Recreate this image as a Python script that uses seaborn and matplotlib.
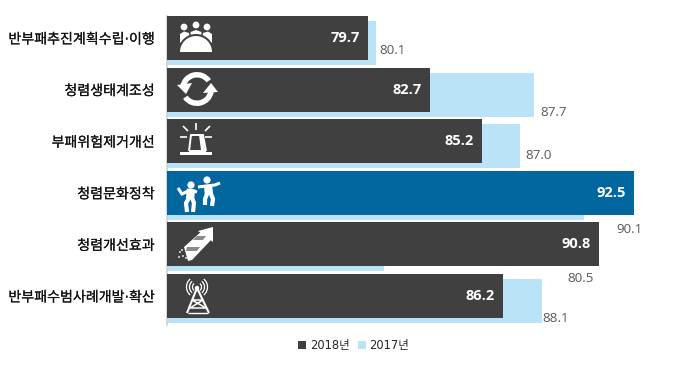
import numpy as np
import pandas as pd
import matplotlib
matplotlib.use("Agg")
import matplotlib.pyplot as plt
import matplotlib.patheffects as pe
from matplotlib.patches import Circle, Wedge, Polygon, Arc, Rectangle
from matplotlib.lines import Line2D
import seaborn as sns

categories = ["반부패추진계획수립·이행", "청렴생태계조성", "부패위험제거개선",
              "청렴문화정착", "청렴개선효과", "반부패수범사례개발·확산"]
values_2018 = [79.7, 82.7, 85.2, 92.5, 90.8, 86.2]
values_2017 = [80.1, 87.7, 87.0, 90.1, 80.5, 88.1]
legend_labels = ["2018년", "2017년"]

DARK, BLUE, LIGHT = "#404040", "#02679E", "#BAE3F7"
CJK = ["Noto Sans CJK KR", "DejaVu Sans"]
DOT_NARROW = ["DejaVu Sans", "Noto Sans CJK KR"]
W, H = 700, 371
sns.set_theme(style="white")
plt.rcParams["font.family"] = CJK

fig = plt.figure(figsize=(7, 3.71), dpi=100)
L, R, T, B = 167, 687, 16, 325
ax = fig.add_axes([L / W, 1 - B / H, (R - L) / W, (B - T) / H])

rows = np.arange(len(categories), dtype=float)
step = 51.6
df18 = pd.DataFrame({"row": rows, "v": values_2018})
df17 = pd.DataFrame({"row": rows + 5 / step, "v": values_2017})
sns.barplot(data=df17, x="v", y="row", orient="h", native_scale=True,
            color=LIGHT, saturation=1, width=44 / step, ax=ax, zorder=2)
n_light = len(ax.patches)
sns.barplot(data=df18, x="v", y="row", orient="h", native_scale=True,
            color=DARK, saturation=1, width=44 / step, ax=ax, zorder=3)
ax.patches[n_light + 3].set_facecolor(BLUE)
for p in ax.patches:
    p.set_linewidth(0)

ax.set_xlim(70.05, 95.05)
ax.set_ylim((B - 38) / step, (T - 38) / step)
ax.set_xlabel(""); ax.set_ylabel("")
ax.set_xticks([])
ax.set_yticks(rows)
ax.set_yticklabels(categories, fontsize=10.1, color="#111111", family=DOT_NARROW)
for t in ax.get_yticklabels():
    t.set_path_effects([pe.withStroke(linewidth=0.12, foreground="#111111")])
ax.tick_params(axis="y", length=0, pad=9)
for s in ["top", "right", "bottom"]:
    ax.spines[s].set_visible(False)
ax.spines["left"].set_color("#D0D0D0")
ax.spines["left"].set_linewidth(1.2)

for r, v in zip(rows, values_2018):
    ax.annotate(f"{v:.1f}", (v, r), xytext=(-8, 0), textcoords="offset pixels",
                ha="right", va="center", color="white", fontsize=10.5,
                fontweight="bold", family="Open Sans", zorder=5)

# Label placement of the previous-year values (pixels from bar end / row centre)
offs_x = [3, 6, 6, 32, 183, 0]
offs_y = [13, 23, 14, 37, 34, 22]
for r, v, dx, dy in zip(rows, values_2017, offs_x, offs_y):
    ax.annotate(f"{v:.1f}", (v, r), xytext=(dx, -dy), textcoords="offset pixels",
                ha="left", va="center", color="#595959", fontsize=9.6,
                family="Open Sans", zorder=5)

handles = [Line2D([], [], ls="", marker="s", ms=5.6, color=DARK, mew=0),
           Line2D([], [], ls="", marker="s", ms=5.6, color=LIGHT, mew=0)]
fig.legend(handles, legend_labels, loc="center", bbox_to_anchor=(353.5 / W, 1 - 346 / H),
           ncol=2, frameon=False, handlelength=0.7, handletextpad=0.35, columnspacing=0.7,
           prop={"family": DOT_NARROW, "size": 8.3})

# Decorative pictograms on a pixel-space overlay
ic = fig.add_axes([0, 0, 1, 1], zorder=10)
ic.set_xlim(0, W); ic.set_ylim(H, 0); ic.axis("off"); ic.patch.set_alpha(0)
WHT = "white"
def line(pts, lw=1.5, c=WHT):
    xs, ys = zip(*pts)
    ic.plot(xs, ys, color=c, lw=lw, solid_capstyle="butt", solid_joinstyle="miter")

# people around a table
for x, y in [(184, 27), (196, 25), (207, 27)]:
    ic.add_patch(Circle((x, y), 3.4, fc=WHT, lw=0))
ic.add_patch(Polygon([(180, 43), (180, 34), (184, 31.5), (189, 33), (190, 40)], fc=WHT, lw=0))
ic.add_patch(Polygon([(212, 43), (212, 34), (208, 31.5), (203, 33), (202, 40)], fc=WHT, lw=0))
ic.add_patch(Polygon([(190.5, 32), (196, 30), (201.5, 32), (201, 37), (196, 39), (191, 37)], fc=WHT, lw=0))
ic.add_patch(Wedge((196, 52), 18, 180, 360, fc=DARK, lw=0))
ic.add_patch(Wedge((196, 52), 16, 180, 360, fc=WHT, lw=0))

# circular arrows
ic.add_patch(Wedge((197, 89), 17, 190, 325, width=5.5, fc=WHT, lw=0))
ic.add_patch(Wedge((197, 89), 17, 10, 145, width=5.5, fc=WHT, lw=0))
ic.add_patch(Polygon([(177, 85), (192, 83), (186, 94)], fc=WHT, lw=0))
ic.add_patch(Polygon([(203, 93), (218, 92), (211, 83)], fc=WHT, lw=0))

# siren
ic.add_patch(Rectangle((180, 151.5), 32, 3.5, fc=WHT, lw=0))
line([(189, 151), (191, 135), (203, 135), (206, 151)], 1.4)
line([(189, 151), (206, 151)], 1.4)
ic.add_patch(Polygon([(199, 135), (203, 135), (205, 150), (201, 150)], fc=WHT, lw=0))
for a, b in [((196, 123), (196, 130)), ((183, 126), (188, 131)), ((210, 126), (205, 131)),
             ((180, 137), (187, 137)), ((205, 137), (212, 137))]:
    line([a, b], 1.2)

# dancers
for x, y in [(191, 185), (207, 180)]:
    ic.add_patch(Circle((x, y), 3.6, fc=WHT, lw=0))
line([(191, 189), (190, 199)], 6)
line([(189, 198), (186, 203), (187, 212)], 3)
line([(192, 198), (194, 203), (193, 212)], 3)
line([(178, 188), (182, 194), (190, 190), (197, 192)], 2.2)
line([(208, 185), (209, 195)], 6)
line([(207, 194), (205, 199), (205, 205)], 3)
line([(211, 194), (213, 199), (212, 206)], 3)
line([(198, 187), (206, 186), (215, 185), (220, 183)], 2.2)

# rocket
ic.add_patch(Polygon([(198, 231), (213, 227), (213, 242)], fc=WHT, lw=0))
ic.add_patch(Polygon([(184, 247), (202, 231), (211, 240), (192, 260), (188, 261)], fc=WHT, lw=0))
ic.add_patch(Polygon([(197, 236), (206, 236), (203, 240), (193, 240)], fc="#8A8A8A", lw=0))
ic.add_patch(Polygon([(187, 247), (200, 247), (197, 251), (186, 251)], fc="#8A8A8A", lw=0))
for x, y in [(180, 252), (183, 256), (179, 257), (182, 250), (186, 258)]:
    ic.add_patch(Circle((x, y), 0.9, fc=WHT, lw=0))

# tower
line([(197, 288), (187, 313)], 1.5)
line([(197, 288), (209, 313)], 1.5)
line([(192, 300), (203, 300), (190, 308), (206, 308), (192, 300)], 1.1)
line([(188, 313), (208, 313)], 1.0)
ic.add_patch(Circle((197, 288), 2.2, fc=WHT, lw=0))
for rad in (4.5, 7.5, 10.5):
    ic.add_patch(Arc((197, 287), 2 * rad, 2 * rad, theta1=-50, theta2=50, color=WHT, lw=0.9))
    ic.add_patch(Arc((197, 287), 2 * rad, 2 * rad, theta1=130, theta2=230, color=WHT, lw=0.9))

fig.savefig("out.png", dpi=100)
